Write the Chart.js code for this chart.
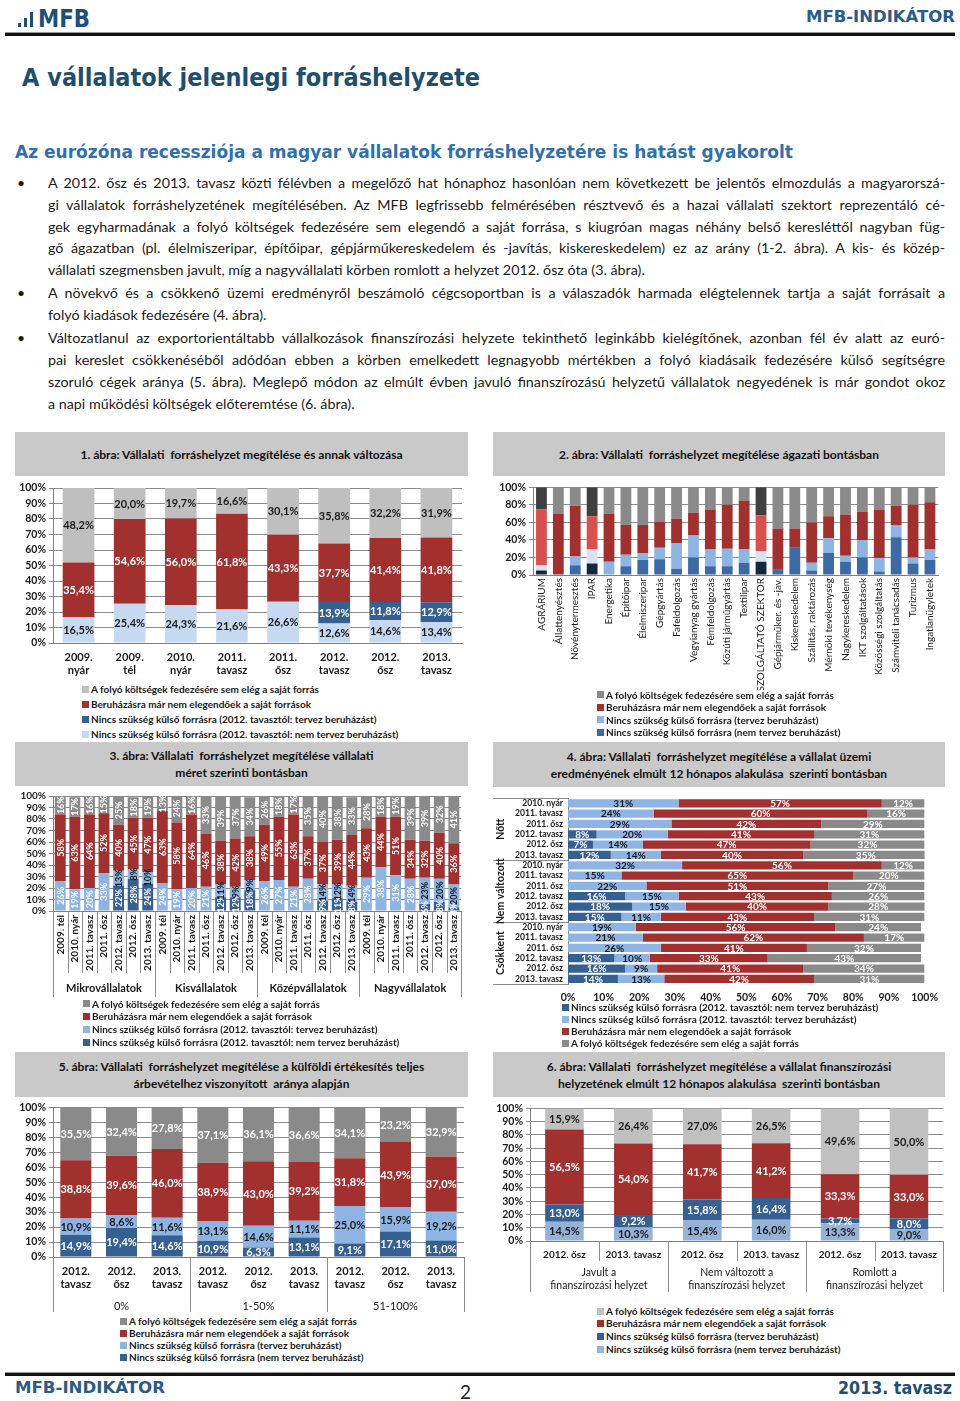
<!DOCTYPE html>
<html lang="hu">
<head>
<meta charset="utf-8">
<title>MFB-INDIKÁTOR</title>
<script src="https://cdn.jsdelivr.net/npm/chart.js@4.4.1/dist/chart.umd.min.js"></script>
<style>
html,body{margin:0;padding:0;background:#fff}
body{position:relative;width:960px;height:1401px;overflow:hidden;font-family:Lato,"Open Sans",sans-serif;color:#1a1a1a}
.a{position:absolute}
.fit{white-space:nowrap;display:inline-block;transform-origin:0 50%}
.hd{font-family:"DejaVu Sans",sans-serif;font-weight:bold}
.ttl{position:absolute;background:#c9c9c9;font-weight:bold;font-size:12px;line-height:17px;text-align:center;display:flex;flex-direction:column;justify-content:center;color:#111}
.leg{position:absolute;font-weight:bold;font-size:10px;color:#1a1a1a;white-space:nowrap}
.leg div{display:flex;align-items:center}
.leg .sw{flex:none;width:7px;height:7px;margin-right:2px}
.para{position:absolute;left:48px;width:897px;font-size:14.3px}
.para div{white-space:nowrap}
.bul{position:absolute;left:17px;font-size:14px;line-height:22px}
canvas{position:absolute}
</style>
</head>
<body>
<!-- header -->
<div class="a" style="left:18px;top:23px;width:3px;height:4px;background:#1f4e79"></div>
<div class="a" style="left:24px;top:18px;width:3px;height:9px;background:#1f4e79"></div>
<div class="a" style="left:30px;top:12px;width:3px;height:15px;background:#1f4e79"></div>
<div class="a hd" style="left:38px;top:5px;height:28px;line-height:28px;font-size:24px;color:#1f4e79"><span class="fit" data-w="52">MFB</span></div>
<div class="a hd" style="left:806px;top:7px;height:20px;line-height:20px;font-size:16px;color:#2a5b8a"><span class="fit" data-w="149">MFB-INDIKÁTOR</span></div>
<div class="a" style="left:5px;top:32px;width:950px;height:1px;background:#9a9a9a"></div>
<div class="a" style="left:5px;top:33px;width:950px;height:3px;background:#111"></div>

<div class="a hd" style="left:22px;top:63px;height:30px;line-height:30px;font-size:25px;color:#1f4e6e"><span class="fit" data-w="458">A vállalatok jelenlegi forráshelyzete</span></div>
<div class="a hd" style="left:15px;top:140px;height:24px;line-height:24px;font-size:18px;color:#3070ae"><span class="fit" data-w="778">Az eurózóna recessziója a magyar vállalatok forráshelyzetére is hatást gyakorolt</span></div>

<div class="bul" style="top:172px">•</div>
<div class="para" style="top:172px;line-height:21.8px">
<div class="j"><span>A 2012. ősz és 2013. tavasz közti félévben a megelőző hat hónaphoz hasonlóan nem következett be jelentős elmozdulás a magyarorszá-</span></div>
<div class="j"><span>gi vállalatok forráshelyzetének megítélésében. Az MFB legfrissebb felmérésében résztvevő és a hazai vállalati szektort reprezentáló cé-</span></div>
<div class="j"><span>gek egyharmadának a folyó költségek fedezésére sem elegendő a saját forrása, s kiugróan magas néhány belső keresléttől nagyban füg-</span></div>
<div class="j"><span>gő ágazatban (pl. élelmiszeripar, építőipar, gépjárműkereskedelem és -javítás, kiskereskedelem) ez az arány (1-2. ábra). A kis- és közép-</span></div>
<div><span>vállalati szegmensben javult, míg a nagyvállalati körben romlott a helyzet 2012. ősz óta (3. ábra).</span></div>
</div>
<div class="bul" style="top:282px">•</div>
<div class="para" style="top:282px;line-height:22px">
<div class="j"><span>A növekvő és a csökkenő üzemi eredményről beszámoló cégcsoportban is a válaszadók harmada elégtelennek tartja a saját forrásait a</span></div>
<div><span>folyó kiadások fedezésére (4. ábra).</span></div>
</div>
<div class="bul" style="top:327px">•</div>
<div class="para" style="top:327px;line-height:22px">
<div class="j"><span>Változatlanul az exportorientáltabb vállalkozások finanszírozási helyzete tekinthető leginkább kielégítőnek, azonban fél év alatt az euró-</span></div>
<div class="j"><span>pai kereslet csökkenéséből adódóan ebben a körben emelkedett legnagyobb mértékben a folyó kiadásaik fedezésére külső segítségre</span></div>
<div class="j"><span>szoruló cégek aránya (5. ábra). Meglepő módon az elmúlt évben javuló finanszírozású helyzetű vállalatok negyedének is már gondot okoz</span></div>
<div><span>a napi működési költségek előteremtése (6. ábra).</span></div>
</div>

<!-- chart titles -->
<div class="ttl" style="left:15px;top:432px;width:453px;height:44px"><div>1. ábra: Vállalati&nbsp; forráshelyzet megítélése és annak változása</div></div>
<div class="ttl" style="left:493px;top:432px;width:452px;height:44px"><div>2. ábra: Vállalati&nbsp; forráshelyzet megítélése ágazati bontásban</div></div>
<div class="ttl" style="left:15px;top:742px;width:453px;height:44px"><div>3. ábra: Vállalati&nbsp; forráshelyzet megítélése vállalati</div><div>méret szerinti bontásban</div></div>
<div class="ttl" style="left:493px;top:742px;width:452px;height:45px"><div>4. ábra: Vállalati&nbsp; forráshelyzet megítélése a vállalat üzemi</div><div>eredményének elmúlt 12 hónapos alakulása&nbsp; szerinti bontásban</div></div>
<div class="ttl" style="left:15px;top:1052px;width:453px;height:45px"><div>5. ábra: Vállalati&nbsp; forráshelyzet megítélése a külföldi értékesítés teljes</div><div>árbevételhez viszonyított&nbsp; aránya alapján</div></div>
<div class="ttl" style="left:493px;top:1052px;width:452px;height:45px"><div>6. ábra: Vállalati&nbsp; forráshelyzet megítélése a vállalat finanszírozási</div><div>helyzetének elmúlt 12 hónapos alakulása&nbsp; szerinti bontásban</div></div>

<canvas id="c1" width="455" height="202" style="left:15px;top:478px"></canvas>
<canvas id="c2" width="452" height="212" style="left:493px;top:478px"></canvas>
<canvas id="c3" width="455" height="212" style="left:15px;top:787px"></canvas>
<canvas id="c4" width="452" height="214" style="left:493px;top:788px"></canvas>
<canvas id="c5" width="455" height="214" style="left:15px;top:1098px"></canvas>
<canvas id="c6" width="452" height="196" style="left:493px;top:1099px"></canvas>

<div class="leg" id="l1" style="left:82px;top:681.5px;line-height:15px"></div>
<div class="leg" id="l2" style="left:597px;top:688.7px;line-height:12.5px"></div>
<div class="leg" id="l3" style="left:83px;top:997.6px;line-height:12.7px"></div>
<div class="leg" id="l4" style="left:562px;top:1001px;line-height:12px"></div>
<div class="leg" id="l5" style="left:120px;top:1315px;line-height:12px"></div>
<div class="leg" id="l6" style="left:597px;top:1304.7px;line-height:12.7px"></div>

<!-- footer -->
<div class="a" style="left:5px;top:1372px;width:950px;height:1px;background:#9a9a9a"></div>
<div class="a" style="left:5px;top:1373px;width:950px;height:3px;background:#111"></div>
<div class="a hd" style="left:15px;top:1378px;height:20px;line-height:20px;font-size:16px;color:#2a5b8a"><span class="fit" data-w="150">MFB-INDIKÁTOR</span></div>
<div class="a" style="left:460px;top:1381px;height:22px;line-height:22px;font-size:19px;color:#222">2</div>
<div class="a hd" style="left:838px;top:1378px;height:20px;line-height:20px;font-size:17px;color:#1f4e79"><span class="fit" data-w="114">2013. tavasz</span></div>

<script>
// ---------- DATA ----------
// 1. ábra
const c1Labels = [['2009.','nyár'],['2009.','tél'],['2010.','nyár'],['2011.','tavasz'],['2011.','ősz'],['2012.','tavasz'],['2012.','ősz'],['2013.','tavasz']];
const c1Nem   = [16.5, 25.4, 24.3, 21.6, 26.6, 12.6, 14.6, 13.4];
const c1Terv  = [0, 0, 0, 0, 0, 13.9, 11.8, 12.9];
const c1Beruh = [35.4, 54.6, 56.0, 61.8, 43.3, 37.7, 41.4, 41.8];
const c1Folyo = [48.2, 20.0, 19.7, 16.6, 30.1, 35.8, 32.2, 31.9];

// 2. ábra
const c2Labels = ['AGRÁRIUM','Állattenyésztés','Növénytermesztés','IPAR','Energetika','Építőipar','Élelmiszeripar','Gépgyártás','Fafeldolgozás','Vegyianyag gyártás','Fémfeldolgozás','Közúti járműgyártás','Textilipar','SZOLGÁLTATÓ SZEKTOR','Gépjárműker. és -jav.','Kiskereskedelem','Szállítás, raktározás','Mérnöki tevékenység','Nagykereskedelem','IKT szolgáltatások','Közösségi szolgáltatás','Számviteli tanácsadás','Turizmus','Ingatlanügyletek'];
const c2Aggregates = ['AGRÁRIUM','IPAR','SZOLGÁLTATÓ SZEKTOR'];
const c2Nem   = [5,0,11,13,0,10,17,18,7,20,10,10,14,15,6,31,5,25,15,20,4,43,13,17];
const c2Terv  = [6,0,10,16,15,13,8,13,29,25,19,20,15,12,0,0,9,17,7,20,15,14,7,12];
const c2Beruh = [64,70,58,38,55,34,32,30,28,26,45,50,56,41,47,22,46,25,47,32,55,22,60,54];
const c2Folyo = [25,30,21,33,30,43,43,39,36,29,26,20,15,32,47,47,40,33,31,28,26,21,20,17];

// 3. ábra
const c3Periods = ['2009. tél','2010. nyár','2011. tavasz','2011. ősz','2012. tavasz','2012. ősz','2013. tavasz'];
const c3Groups  = ['Mikrovállalatok','Kisvállalatok','Középvállalatok','Nagyvállalatok'];
const c3Nem   = [0,0,0,0,22,28,24,  0,0,0,0,12,12,18,  0,0,0,0,9,11,8,   0,0,0,0,6,8,3];
const c3Terv  = [26,19,20,33,13,8,10, 24,19,20,21,11,9,9, 26,27,21,28,14,12,14, 29,38,31,28,23,20,20];
const c3Beruh = [58,63,64,52,40,45,47, 63,58,64,46,38,42,38, 49,55,63,37,37,39,44, 43,44,51,34,32,40,36];
const c3Folyo = [16,17,16,15,25,18,19, 13,24,16,33,39,37,34, 26,18,17,35,40,38,33, 28,18,19,39,39,32,41];

// 4. ábra
const c4Periods = ['2010. nyár','2011. tavasz','2011. ősz','2012. tavasz','2012. ősz','2013. tavasz'];
const c4Groups  = ['Nőtt','Nem változott','Csökkent'];
const c4Nem   = [0,0,0,8,7,12,   0,0,0,16,18,15,  0,0,0,13,16,14];
const c4Terv  = [31,24,29,20,14,14, 32,15,22,15,15,11, 19,21,26,10,9,13];
const c4Beruh = [57,60,42,41,47,40, 56,65,51,43,40,43, 56,62,41,33,41,42];
const c4Folyo = [12,16,29,31,32,35, 12,20,27,26,28,31, 24,17,32,43,34,31];

// 5. ábra
const c5Periods = [['2012.','tavasz'],['2012.','ősz'],['2013.','tavasz']];
const c5Groups  = ['0%','1-50%','51-100%'];
const c5Nem   = [14.9,19.4,14.6, 10.9,6.3,13.1, 9.1,17.1,11.0];
const c5Terv  = [10.9,8.6,11.6, 13.1,14.6,11.1, 25.0,15.9,19.2];
const c5Beruh = [38.8,39.6,46.0, 38.9,43.0,39.2, 31.8,43.9,37.0];
const c5Folyo = [35.5,32.4,27.8, 37.1,36.1,36.6, 34.1,23.2,32.9];

// 6. ábra
const c6Periods = ['2012. ősz','2013. tavasz'];
const c6Groups  = [['Javult a','finanszírozási helyzet'],['Nem változott a','finanszírozási helyzet'],['Romlott a','finanszírozási helyzet']];
const c6Nem   = [14.5,10.3, 15.4,16.0, 13.3,9.0];
const c6Terv  = [13.0,9.2, 15.8,16.4, 3.7,8.0];
const c6Beruh = [56.5,54.0, 41.7,41.2, 33.3,33.0];
const c6Folyo = [15.9,26.4, 27.0,26.5, 49.6,50.0];

const LEG = {
  folyo: 'A folyó költségek fedezésére sem elég a saját forrás',
  beruh: 'Beruházásra már nem elegendőek a saját források',
  terv12: 'Nincs szükség külső forrásra (2012. tavasztól: tervez beruházást)',
  nem12: 'Nincs szükség külső forrásra (2012. tavasztól: nem tervez beruházást)',
  terv: 'Nincs szükség külső forrásra (tervez beruházást)',
  nem: 'Nincs szükség külső forrásra (nem tervez beruházást)'
};

// ---------- helpers ----------
function cross(groups, periods){ const out=[]; groups.forEach(()=>periods.forEach(p=>out.push(p))); return out; }

Chart.defaults.font.family = 'Lato, sans-serif';
Chart.defaults.color = '#1a1a1a';
Chart.defaults.animation = false;
Chart.defaults.events = [];
Chart.defaults.plugins.legend.display = false;
Chart.defaults.plugins.tooltip.enabled = false;

const valueLabels = {
  id: 'valueLabels',
  afterDatasetsDraw(chart, args, opts) {
    if (!opts.show) return;
    const ctx = chart.ctx;
    const horiz = chart.options.indexAxis === 'y';
    chart.data.datasets.forEach((ds, di) => {
      const meta = chart.getDatasetMeta(di);
      meta.data.forEach((el, i) => {
        const v = ds.data[i];
        if (!v) return;
        const p = el.getProps(['x','y','base'], true);
        let x, y;
        if (horiz) { x = (p.x + p.base) / 2; y = p.y; } else { x = p.x; y = (p.y + p.base) / 2; }
        ctx.save();
        ctx.translate(x, y);
        if (opts.rotate) ctx.rotate(-Math.PI / 2);
        ctx.fillStyle = typeof ds.labelColor === 'function' ? ds.labelColor(i) : (ds.labelColor || '#fff');
        ctx.font = opts.font;
        ctx.textAlign = 'center';
        ctx.textBaseline = 'middle';
        ctx.fillText(v.toFixed(opts.decimals).replace('.', ',') + '%', 0, 0.5);
        ctx.restore();
      });
    });
  }
};

const htmlLegend = {
  id: 'htmlLegend',
  afterUpdate(chart, args, opts) {
    const box = document.getElementById(opts.container);
    if (!box) return;
    box.innerHTML = '';
    let ds = chart.data.datasets.slice();
    if (opts.reverse) ds.reverse();
    ds.forEach(d => {
      const row = document.createElement('div');
      const sw = document.createElement('span');
      sw.className = 'sw';
      sw.style.background = d.legendColor || d.backgroundColor;
      row.appendChild(sw);
      row.appendChild(document.createTextNode(d.label));
      box.appendChild(row);
    });
  }
};

const groupAxis = {
  id: 'groupAxis',
  afterDraw(chart, args, o) {
    if (!o.labels) return;
    const ctx = chart.ctx, area = chart.chartArea;
    const horiz = chart.options.indexAxis === 'y';
    const sc = horiz ? chart.scales.y : chart.scales.x;
    const n = chart.data.labels.length;
    const p0 = sc.getPixelForValue(0), p1 = sc.getPixelForValue(1);
    const step = p1 - p0;
    const b = i => p0 + (i - 0.5) * step;
    const r = v => Math.round(v) + 0.5;
    ctx.save();
    ctx.strokeStyle = o.lineColor || '#8c8c8c';
    ctx.lineWidth = 1;
    ctx.beginPath();
    if (!horiz) {
      const y0 = area.bottom;
      if (o.tickTo) for (let i = 0; i <= n; i++) { ctx.moveTo(r(b(i)), y0); ctx.lineTo(r(b(i)), y0 + o.tickTo); }
      for (let g = 0; g <= o.labels.length; g++) { const x = r(b(g * o.size)); ctx.moveTo(x, y0); ctx.lineTo(x, y0 + o.groupTo); }
    } else {
      const x0 = area.left;
      for (let g = 0; g <= o.labels.length; g++) { const y = r(b(g * o.size)); ctx.moveTo(x0 - o.groupTo, y); ctx.lineTo(x0, y); }
    }
    ctx.stroke();
    ctx.fillStyle = o.color || '#1a1a1a';
    ctx.font = o.font;
    ctx.textAlign = 'center';
    ctx.textBaseline = 'middle';
    o.labels.forEach((lab, g) => {
      const lines = Array.isArray(lab) ? lab : [lab];
      const c = (b(g * o.size) + b((g + 1) * o.size)) / 2;
      ctx.save();
      if (!horiz) ctx.translate(c, area.bottom + o.labelOffset);
      else { ctx.translate(area.left - o.labelOffset, c); ctx.rotate(-Math.PI / 2); }
      lines.forEach((t, k) => ctx.fillText(t, 0, (k - (lines.length - 1) / 2) * (o.lineHeight || 13)));
      ctx.restore();
    });
    ctx.restore();
  }
};

function yPct(step, width, size) {
  return {
    stacked: true, min: 0, max: 100,
    ticks: { stepSize: step, autoSkip: false, callback: v => v + '%', font: { size: size, weight: 'bold' }, padding: 3, color: '#1a1a1a' },
    grid: { color: '#8c8c8c', tickLength: 4, lineWidth: 1 },
    border: { display: true, color: '#7f7f7f' },
    afterFit: s => { s.width = width; }
  };
}
function xCat(height, ticks) {
  return {
    stacked: true,
    grid: { display: false, drawTicks: false },
    border: { display: true, color: '#7f7f7f' },
    ticks: Object.assign({ autoSkip: false, maxRotation: 0, minRotation: 0, padding: 8, font: { size: 11, weight: 'bold' }, color: '#1a1a1a' }, ticks),
    afterFit: s => { s.height = height; }
  };
}

// ---------- 1. ábra ----------
new Chart(document.getElementById('c1'), {
  type: 'bar',
  data: { labels: c1Labels, datasets: [
    { label: LEG.nem12, data: c1Nem, backgroundColor: '#c6d9f0', labelColor: '#1a1a1a' },
    { label: LEG.terv12, data: c1Terv, backgroundColor: '#366092', labelColor: '#fff' },
    { label: LEG.beruh, data: c1Beruh, backgroundColor: '#a2302e', labelColor: '#fff' },
    { label: LEG.folyo, data: c1Folyo, backgroundColor: '#bfbfbf', labelColor: '#1a1a1a' }
  ]},
  options: {
    responsive: false,
    layout: { padding: { top: 10, right: 8, left: 0, bottom: 0 } },
    datasets: { bar: { barPercentage: 0.62, categoryPercentage: 1 } },
    scales: { x: xCat(37, { padding: 8, font: { size: 11, weight: 'bold' } }), y: yPct(10, 38, 10.5) },
    plugins: { valueLabels: { show: true, decimals: 1, font: 'bold 11px Lato' }, htmlLegend: { container: 'l1', reverse: true } }
  },
  plugins: [valueLabels, htmlLegend]
});

// ---------- 2. ábra ----------
const isAgg = i => c2Aggregates.includes(c2Labels[i]);
new Chart(document.getElementById('c2'), {
  type: 'bar',
  data: { labels: c2Labels, datasets: [
    { label: LEG.nem, data: c2Nem, legendColor: '#3b6aa5', backgroundColor: c => isAgg(c.dataIndex) ? '#15273f' : '#3b6aa5' },
    { label: LEG.terv, data: c2Terv, legendColor: '#8eb4e3', backgroundColor: c => isAgg(c.dataIndex) ? '#d7e2f2' : '#8eb4e3' },
    { label: LEG.beruh, data: c2Beruh, legendColor: '#a2302e', backgroundColor: c => isAgg(c.dataIndex) ? '#d9504d' : '#a2302e' },
    { label: LEG.folyo, data: c2Folyo, legendColor: '#8a8a8a', backgroundColor: c => isAgg(c.dataIndex) ? '#3f3f3f' : '#8a8a8a' }
  ]},
  options: {
    responsive: false,
    layout: { padding: { top: 6, right: 3, left: 0, bottom: 0 } },
    datasets: { bar: { barPercentage: 0.64, categoryPercentage: 1 } },
    scales: { x: xCat(115, { minRotation: 90, maxRotation: 90, padding: 3, font: { size: 10, weight: 'normal' } }), y: yPct(20, 40, 10.5) },
    plugins: { htmlLegend: { container: 'l2', reverse: true } }
  },
  plugins: [htmlLegend]
});

// ---------- 3. ábra ----------
new Chart(document.getElementById('c3'), {
  type: 'bar',
  data: { labels: cross(c3Groups, c3Periods), datasets: [
    { label: LEG.nem12, data: c3Nem, backgroundColor: '#376092', labelColor: '#fff' },
    { label: LEG.terv12, data: c3Terv, backgroundColor: '#8eb4e3', labelColor: i => c3Nem[i] > 0 ? '#1a1a1a' : '#fff' },
    { label: LEG.beruh, data: c3Beruh, backgroundColor: '#a2302e', labelColor: '#fff' },
    { label: LEG.folyo, data: c3Folyo, backgroundColor: '#8a8a8a', labelColor: '#fff' }
  ]},
  options: {
    responsive: false,
    layout: { padding: { top: 6, right: 8, left: 0, bottom: 23 } },
    datasets: { bar: { barPercentage: 0.75, categoryPercentage: 1 } },
    scales: { x: xCat(65, { minRotation: 90, maxRotation: 90, padding: 4, font: { size: 10, weight: 'bold' } }), y: yPct(10, 38, 10) },
    plugins: {
      valueLabels: { show: true, decimals: 0, rotate: true, font: 'bold 9px Lato' },
      htmlLegend: { container: 'l3', reverse: true },
      groupAxis: { labels: c3Groups, size: c3Periods.length, tickTo: 62, groupTo: 86, labelOffset: 77, font: 'bold 11px Lato' }
    }
  },
  plugins: [valueLabels, htmlLegend, groupAxis]
});

// ---------- 4. ábra ----------
new Chart(document.getElementById('c4'), {
  type: 'bar',
  data: { labels: cross(c4Groups, c4Periods), datasets: [
    { label: LEG.nem12, data: c4Nem, backgroundColor: '#376092', labelColor: '#fff' },
    { label: LEG.terv12, data: c4Terv, backgroundColor: '#8eb4e3', labelColor: '#1a1a1a' },
    { label: LEG.beruh, data: c4Beruh, backgroundColor: '#a2302e', labelColor: '#fff' },
    { label: LEG.folyo, data: c4Folyo, backgroundColor: '#8a8a8a', labelColor: '#fff' }
  ]},
  options: {
    responsive: false,
    indexAxis: 'y',
    layout: { padding: { top: 1, right: 15, left: 20, bottom: 0 } },
    datasets: { bar: { barPercentage: 0.8, categoryPercentage: 1 } },
    scales: {
      x: { stacked: true, min: 0, max: 100,
        ticks: { stepSize: 10, callback: v => v + '%', font: { size: 10.5, weight: 'bold' }, padding: 7, color: '#1a1a1a' },
        grid: { display: false, drawTicks: false }, border: { display: false },
        afterFit: s => { s.height = 18; } },
      y: { stacked: true,
        ticks: { autoSkip: false, font: { size: 8.6, weight: 'bold' }, padding: 5, color: '#1a1a1a' },
        grid: { display: false, drawTicks: false }, border: { display: true, color: '#7f7f7f' },
        afterFit: s => { s.width = 55; } }
    },
    plugins: {
      valueLabels: { show: true, decimals: 0, font: 'bold 10px Lato' },
      htmlLegend: { container: 'l4', reverse: false },
      groupAxis: { labels: c4Groups, size: c4Periods.length, groupTo: 75, labelOffset: 67, font: 'bold 10.5px Lato' }
    }
  },
  plugins: [valueLabels, htmlLegend, groupAxis]
});

// ---------- 5. ábra ----------
new Chart(document.getElementById('c5'), {
  type: 'bar',
  data: { labels: cross(c5Groups, c5Periods), datasets: [
    { label: LEG.nem, data: c5Nem, backgroundColor: '#376092', labelColor: '#fff' },
    { label: LEG.terv, data: c5Terv, backgroundColor: '#8eb4e3', labelColor: '#1a1a1a' },
    { label: LEG.beruh, data: c5Beruh, backgroundColor: '#a2302e', labelColor: '#fff' },
    { label: LEG.folyo, data: c5Folyo, backgroundColor: '#8a8a8a', labelColor: '#fff' }
  ]},
  options: {
    responsive: false,
    layout: { padding: { top: 5, right: 6, left: 0, bottom: 20 } },
    datasets: { bar: { barPercentage: 0.68, categoryPercentage: 1 } },
    scales: { x: xCat(35, { padding: 8, font: { size: 11, weight: 'bold' } }), y: yPct(10, 38, 10.5) },
    plugins: {
      valueLabels: { show: true, decimals: 1, font: 'bold 11px Lato' },
      htmlLegend: { container: 'l5', reverse: true },
      groupAxis: { labels: c5Groups, size: c5Periods.length, groupTo: 55, labelOffset: 49, font: '11px Lato' }
    }
  },
  plugins: [valueLabels, htmlLegend, groupAxis]
});

// ---------- 6. ábra ----------
new Chart(document.getElementById('c6'), {
  type: 'bar',
  data: { labels: cross(c6Groups, c6Periods), datasets: [
    { label: LEG.nem, data: c6Nem, backgroundColor: '#95b3d7', labelColor: '#1a1a1a' },
    { label: LEG.terv, data: c6Terv, backgroundColor: '#376092', labelColor: '#fff' },
    { label: LEG.beruh, data: c6Beruh, backgroundColor: '#a2302e', labelColor: '#fff' },
    { label: LEG.folyo, data: c6Folyo, backgroundColor: '#c0c0c0', labelColor: '#1a1a1a' }
  ]},
  options: {
    responsive: false,
    layout: { padding: { top: 8, right: 1, left: 0, bottom: 32 } },
    datasets: { bar: { barPercentage: 0.56, categoryPercentage: 1 } },
    scales: { x: xCat(22, { padding: 8, font: { size: 10, weight: 'bold' } }), y: yPct(10, 37, 10.5) },
    plugins: {
      valueLabels: { show: true, decimals: 1, font: 'bold 11px Lato' },
      htmlLegend: { container: 'l6', reverse: true },
      groupAxis: { labels: c6Groups, size: c6Periods.length, tickTo: 20, groupTo: 51, labelOffset: 38, lineHeight: 13, font: '10.5px Lato' }
    }
  },
  plugins: [valueLabels, htmlLegend, groupAxis]
});

// ---------- text fitting ----------
function fitText() {
  document.querySelectorAll('.fit[data-w]').forEach(el => {
    el.style.transform = 'none';
    const w = el.getBoundingClientRect().width;
    if (w > 0) el.style.transform = 'scaleX(' + (+el.dataset.w / w) + ')';
  });
  document.querySelectorAll('.para .j').forEach(el => {
    const sp = el.firstElementChild;
    sp.style.wordSpacing = '0px';
    const target = el.clientWidth;
    const w = sp.getBoundingClientRect().width;
    const spaces = (sp.textContent.match(/ /g) || []).length;
    if (spaces) sp.style.wordSpacing = ((target - w) / spaces) + 'px';
  });
}
fitText();
if (document.fonts && document.fonts.ready) document.fonts.ready.then(fitText);
</script>
</body>
</html>
